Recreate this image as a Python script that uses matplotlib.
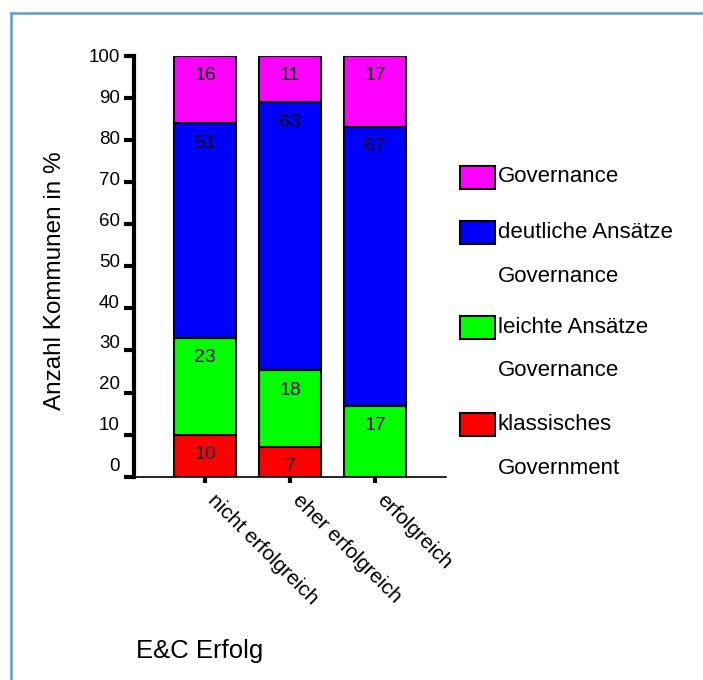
import numpy as np
import matplotlib.pyplot as plt
from matplotlib.patches import Rectangle
from matplotlib.lines import Line2D

plt.rcParams['font.family'] = ['Liberation Sans', 'DejaVu Sans']

categories = ['nicht erfolgreich', 'eher erfolgreich', 'erfolgreich']
klassisch = [10, 7, 0]
leicht = [23, 18, 17]
deutlich = [51, 63, 67]
governance = [16, 11, 17]

series = [klassisch, leicht, deutlich, governance]
series_labels = ['klassisches\nGovernment', 'leichte Ansätze\nGovernance',
                 'deutliche Ansätze\nGovernance', 'Governance']
colors = ['#ff0000', '#00ff00', '#0000ff', '#ff00ff']
yticks = list(range(0, 101, 10))

W, H = 703, 680
fig = plt.figure(figsize=(W / 100, H / 100), dpi=100)
ax = fig.add_axes([134 / W, 1 - 476.7 / H, 312 / W, 421 / H])

x = np.arange(len(categories))
vals = np.array(series, dtype=float)
totals = vals.sum(axis=0)
pct = vals / totals * 100  # each column stacked to 100 %

bottom = np.zeros(len(categories))
for raw, p, col in zip(vals, pct, colors):
    ax.bar(x, p, width=0.73, bottom=bottom, color=col, edgecolor='black',
           linewidth=1.5, zorder=2)
    for xi, r, top in zip(x, raw, bottom + p):
        if r > 0:
            ax.annotate(f'{int(r)}', (xi, top), xytext=(0, -20),
                        textcoords='offset pixels', ha='center', va='center',
                        fontsize=14, zorder=3)
    bottom += p

ax.set_xlim(-0.835, 2.835)
ax.set_ylim(0, 100)

for s in ['top', 'right']:
    ax.spines[s].set_visible(False)
ax.spines['left'].set_linewidth(3)
ax.spines['bottom'].set_linewidth(1.2)

ax.set_yticks(yticks)
ax.set_yticklabels([])
ax.tick_params(axis='y', direction='out', length=7, width=3)
# y labels sit a little off their ticks, drifting upward toward 0
for v in yticks:
    ax.text(-0.045, 2.4 + v * 0.971, str(v), transform=ax.get_yaxis_transform(),
            ha='right', va='center', fontsize=13.5)

ax.set_xticks(x)
ax.set_xticklabels([])
ax.tick_params(axis='x', direction='out', length=4, width=3)
for xi, cat in zip(x, categories):
    ax.annotate(cat, (xi, 0), xytext=(12, -14), textcoords='offset pixels',
                rotation=-45, rotation_mode='anchor', ha='left', va='top',
                fontsize=15, annotation_clip=False)

fig.text(55 / W, 1 - 281 / H, 'Anzahl Kommunen in %', rotation=90,
         ha='center', va='center', fontsize=17.5)
fig.text(136 / W, 1 - 651 / H, 'E&C Erfolg', ha='left', va='center',
         fontsize=18.5)

# legend, top entry first
entry_y = [177, 232, 327, 424]
for lab, col, y in zip(series_labels[::-1], colors[::-1], entry_y):
    fig.add_artist(Rectangle((460 / W, 1 - (y + 11.5) / H), 35 / W, 23 / H,
                             facecolor=col, edgecolor='black', linewidth=1.5,
                             transform=fig.transFigure))
    for i, line in enumerate(lab.split('\n')):
        fig.text(498 / W, 1 - (y + i * 44) / H, line, ha='left',
                 va='center', fontsize=16)

# light blue frame
fig.add_artist(Line2D([10.5 / W, 10.5 / W], [0, 1 - 13 / H], color='#5b9bd5',
                      linewidth=1.8, transform=fig.transFigure))
fig.add_artist(Line2D([10.5 / W, 1], [1 - 13 / H, 1 - 13 / H], color='#5b9bd5',
                      linewidth=1.8, transform=fig.transFigure))

fig.savefig('out.png', dpi=100)
